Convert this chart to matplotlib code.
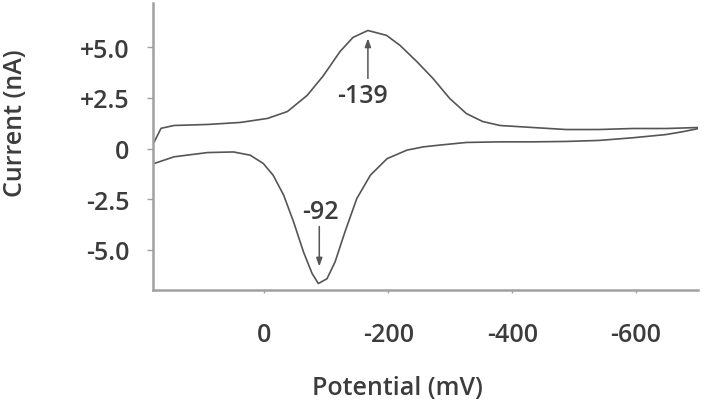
import matplotlib
matplotlib.use("Agg")
import matplotlib.pyplot as plt

# Forward scan (upper branch), potential in mV, current in nA
upper_E = [178, 167, 146, 92, 39, -5, -37, -69, -95, -122, -143, -167, -197,
           -219, -246, -272, -299, -326, -352, -380, -433, -487, -540, -594, -648, -701]
upper_I = [0.33, 1.0, 1.14, 1.19, 1.29, 1.49, 1.83, 2.63, 3.6, 4.8, 5.5, 5.84, 5.6,
           5.1, 4.3, 3.47, 2.48, 1.73, 1.34, 1.14, 1.04, 0.94, 0.94, 0.99, 0.99, 1.04]

# Reverse scan (lower branch)
lower_E = [-701, -675, -648, -594, -540, -487, -433, -380, -326, -283, -256, -230,
           -198, -171, -149, -130, -114, -101, -87, -77, -63, -47, -31, -14, 2, 23,
           50, 92, 146, 178]
lower_I = [0.99, 0.83, 0.69, 0.53, 0.4, 0.35, 0.33, 0.33, 0.3, 0.17, 0.08, -0.08,
           -0.50, -1.32, -2.48, -4.12, -5.61, -6.44, -6.68, -6.19, -5.12, -3.63,
           -2.31, -1.32, -0.74, -0.33, -0.17, -0.20, -0.41, -0.74]

x_ticks = [0, -200, -400, -600]
x_tick_labels = ["0", "-200", "-400", "-600"]
y_ticks = [5.0, 2.5, 0, -2.5, -5.0]
y_tick_labels = ["+5.0", "+2.5", "0", "-2.5", "-5.0"]

peak_labels = ["-139", "-92"]
peak_tips = [(-167, 5.45), (-88.5, -5.84)]
peak_tails = [(-167, 3.47), (-88.5, -3.86)]
peak_text_pos = [(-159, 2.62), (-90, -3.12)]

plt.rcParams['font.family'] = ['Open Sans', 'DejaVu Sans']
plt.rcParams['font.weight'] = 'semibold'
plt.rcParams['axes.labelweight'] = 'semibold'
text_color = "#3c3c3c"
line_color = "#555555"
axis_color = "#a0a0a0"
fs = 18

fig = plt.figure(figsize=(7.07, 4.06), dpi=100)
ax = fig.add_axes([153 / 707, 1 - 291 / 406, (698 - 153) / 707, (291 - 4) / 406])

ax.plot(upper_E, upper_I, color=line_color, lw=1.2)
ax.plot(lower_E, lower_I, color=line_color, lw=1.2)

ax.set_xlim(180, -700)
ax.set_ylim(-7.0, 7.2)

ax.set_xticks(x_ticks)
ax.set_xticklabels(x_tick_labels)
ax.set_yticks(y_ticks)
ax.set_yticklabels(y_tick_labels)

for s in ["top", "right"]:
    ax.spines[s].set_visible(False)
for s in ["left", "bottom"]:
    ax.spines[s].set_color(axis_color)
    ax.spines[s].set_linewidth(1.8)

ax.tick_params(axis="x", direction="out", length=2, width=1, color=axis_color,
               pad=21, labelsize=fs, labelcolor=text_color)
ax.tick_params(axis="y", direction="out", length=4, width=1, color=axis_color,
               pad=13, labelsize=fs, labelcolor=text_color)

ax.set_xlabel("Potential (mV)", fontsize=fs, color=text_color, fontweight="semibold")
ax.xaxis.set_label_coords((397 - 153) / (698 - 153), -(389 - 291) / (291 - 4))
ax.xaxis.label.set_verticalalignment("center")
ax.set_ylabel("Current (nA)", fontsize=fs, color=text_color, fontweight="semibold")
ax.yaxis.set_label_coords(-(153 - 16) / (698 - 153), (291 - 123) / (291 - 4))
ax.yaxis.label.set_verticalalignment("center")

for lab, tip, tail, tpos in zip(peak_labels, peak_tips, peak_tails, peak_text_pos):
    ax.annotate("", xy=tip, xytext=tail,
                arrowprops=dict(arrowstyle="-|>,head_length=0.5,head_width=0.18",
                                color=line_color, lw=1.1, shrinkA=0, shrinkB=0))
    ax.text(tpos[0], tpos[1], lab, fontsize=fs, color=text_color,
            ha="center", va="center", fontweight="semibold")

fig.savefig("out.png", dpi=100)
